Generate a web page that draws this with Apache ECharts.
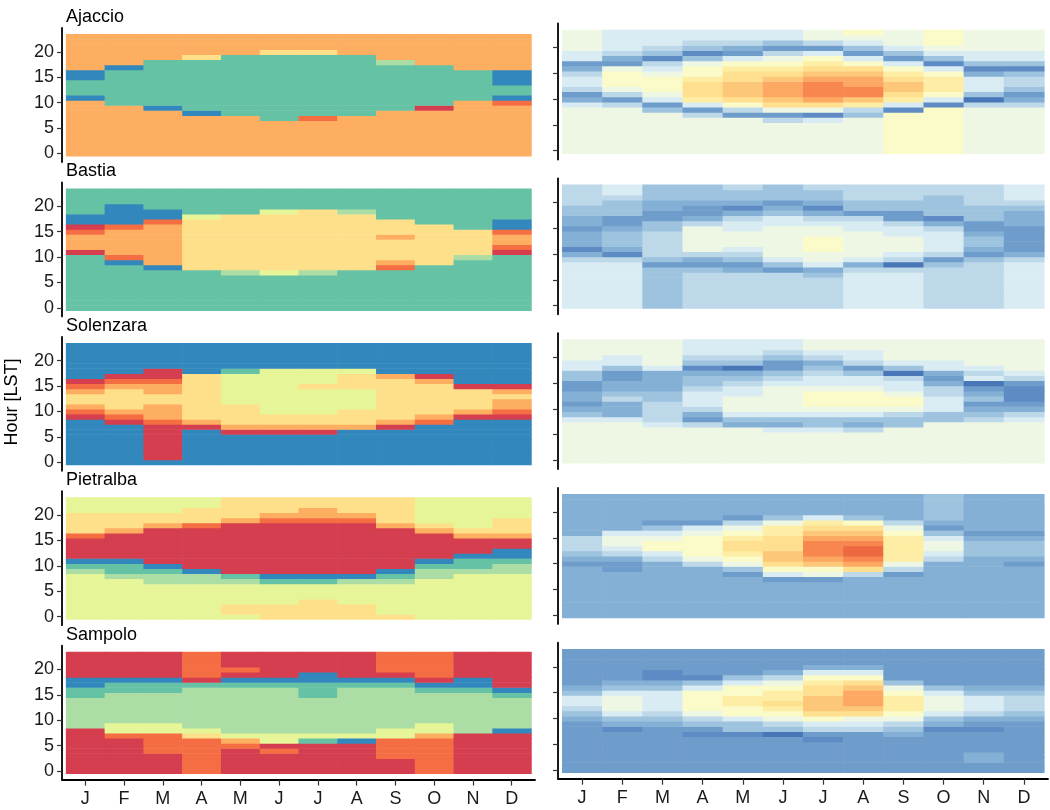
<!DOCTYPE html>
<html>
<head>
<meta charset="utf-8">
<script src="https://cdn.jsdelivr.net/npm/echarts@6/dist/echarts.min.js"></script>
<style>
  html, body { margin: 0; padding: 0; background: #fff; }
  #chart { width: 1050px; height: 810px; }
</style>
</head>
<body>
<div id="chart"></div>
<script>
var months = ['J', 'F', 'M', 'A', 'M', 'J', 'J', 'A', 'S', 'O', 'N', 'D'];
var monthTicks = [1, 2, 3, 4, 5, 6, 7, 8, 9, 10, 11, 12];
var hourTicks = [0, 5, 10, 15, 20];
var stations = ['Ajaccio', 'Bastia', 'Solenzara', 'Pietralba', 'Sampolo'];

// cluster colours, cluster 1..8
var clusterColors = ['#D53E4F', '#F46D43', '#FDAE61', '#FEE08B', '#E6F598', '#ABDDA4', '#66C2A5', '#3288BD'];
// colours of levels 0..14 (hex digits in the level strings)
var levelColors = ['#4876b6', '#5e8bc3', '#6f9dcb', '#85b0d6', '#9ec3df', '#bcd8e9', '#d9ebf3', '#eef6e4',
  '#fafbc9', '#feeea5', '#fee090', '#fdc77a', '#fca862', '#f7874f', '#ec6941'];

// one string per month, one character per hour (hour 0 first)
var ajaccioCluster = [
  '333333333338777883333333', '333333333377777778333333', '333333333877777777733333',
  '333333338777777777743333', '333333337777777777773333', '333333377777777777774333',
  '333333327777777777774333', '333333337777777777773333', '333333333777777777633333',
  '333333333177777777333333', '333333333337777773333333', '333333333328778883333333'
];
var bastiaCluster = [
  '777777777771333218877777', '777777777823333328888777', '777777778333333332887777',
  '777777774444444444577777', '777777764444444444477777', '777777754444444444457777',
  '777777764444444444447777', '777777774444444444467777', '777777772344443444777777',
  '777777777444444447777777', '777777777764444477777777', '777777777771233288777777'
];
var solenzaraCluster = [
  '888888888123443218888888', '888888881234444321888888', '811111112333443321188888',
  '888888813444444444888888', '888888134444555555788888', '888888134455555555588888',
  '888888134455555455588888', '888888834445555444588888', '888888813444444443888888',
  '888888882344444431888888', '888888888134444188888888', '888888888123343188888888'
];
var pietralbaCluster = [
  '555555555678111124444555', '555555556778111113444555', '555555566781111111344555',
  '555555566811111111244455', '544555567111111111134444', '444555578111111111123444',
  '444455578111111111123344', '444555568111111111123444', '455555567811111111344444',
  '555555556678111113455555', '555555555677811134555555', '555555555667881134445555'
];
var sampoloCluster = [
  '111111111666666778811111', '111111125566666677811111', '111122225566666677811111',
  '222222245666666667122222', '111112356666666667812111', '111121556666666667811111',
  '111111756666666777881111', '111111856666666667811111', '111222255666666667812222',
  '222222235566666678122222', '111111116666666678811111', '111111118666666781111111'
];

var ajaccioLevel = [
  '777777777632566532667777', '777777777525788872356666', '777777774267888765145666',
  '77777775269aaa9887414566', '7777777258abbbaa98623566', '777777527abcccba98752466',
  '777777617acdddcba9862577', '7777777459bddccba8624678', '88888888169abba986246777',
  '888888888168999861467888', '777777777504666314667777', '777777777532455414667777'
];
var bastiaLevel = [
  '666666666531333233445555', '666666666513444322444566', '444444442455555442233444',
  '555555542357777753223444', '555555532456777665313445', '555555524677777766432444',
  '555555436778887765313445', '666666653677777665244555', '666666650567776652244555',
  '555555554256666531444455', '555555555423443224445555', '666666666532222233345666'
];
var solenzaraLevel = [
  '777777776432332244667777', '777777776333543322466777', '777777765555443333677777',
  '777777752356665443145666', '777777734677766543045666', '777777634677777654224566',
  '777777644678887665435677', '777777534678887664256677', '777777744578876650467777',
  '777777774466655323667777', '777777775432432065677777', '777777776532111256777777'
];
var pietralbaLevel = [
  '333333333323455533333333', '333333333223567763333333', '333333333335688764233333',
  '333333333357888876233333', '3333333324789aa987523333', '3333333268abbaaa99743333',
  '3333333278bcdddcba963333', '333333335acdeedcba843333', '333333332579999987533333',
  '333333333335677642344444', '333333333333444323333333', '333333333323444323333333'
];
var sampoloLevel = [
  '222222222234566432222222', '222222221346777643222222', '222222222345666643112222',
  '222222212457888864122222', '222222214468899886422222', '2222222045789a9987532222',
  '22222212568abbbaa9863222', '22222222567abcccba863222', '222222234578999874222222',
  '222222221346777642222222', '223322221235666432222222', '222222222234555432222222'
];

var clusterRows = [ajaccioCluster, bastiaCluster, solenzaraCluster, pietralbaCluster, sampoloCluster];
var levelRows = [ajaccioLevel, bastiaLevel, solenzaraLevel, pietralbaLevel, sampoloLevel];

function toCells(rows) {
  var out = [];
  for (var m = 0; m < rows.length; m++) {
    for (var h = 0; h < 24; h++) {
      out.push([m + 1, h, parseInt(rows[m].charAt(h), 16)]);
    }
  }
  return out;
}

function renderCell(params, api) {
  var m = api.value(0), h = api.value(1);
  var a = api.coord([m - 0.5, h + 0.5]);
  var b = api.coord([m + 0.5, h - 0.5]);
  return {
    type: 'rect',
    shape: { x: a[0], y: a[1], width: b[0] - a[0] + 0.6, height: b[1] - a[1] + 0.6 },
    style: { fill: api.visual('color') }
  };
}

var font = '"Liberation Sans", Arial, sans-serif';
var grids = [], xAxes = [], yAxes = [], series = [], graphics = [];

for (var col = 0; col < 2; col++) {
  for (var r = 0; r < 5; r++) {
    var gi = grids.length;
    var bottom = (r === 4);
    if (col === 0) {
      grids.push({ left: 62, width: 473, top: 28 + 154.4 * r, height: 134 });
    } else {
      grids.push({ left: 558, width: 490, top: 23.5 + 154.8 * r, height: 136 });
    }
    xAxes.push({
      type: 'value', gridIndex: gi, min: 0.4, max: 12.6,
      axisLine: { show: bottom, onZero: false, lineStyle: { color: '#000', width: 1.8 } },
      axisTick: { show: bottom, length: 6, customValues: monthTicks, lineStyle: { color: '#333', width: 1.2 } },
      axisLabel: {
        show: bottom, customValues: monthTicks, margin: 10,
        fontSize: 18, fontFamily: font, color: '#1a1a1a',
        formatter: function (v) { return months[v - 1]; }
      },
      splitLine: { show: false }
    });
    yAxes.push({
      type: 'value', gridIndex: gi, min: -1.7, max: 24.7,
      axisLine: { show: true, onZero: false, lineStyle: { color: '#000', width: 1.8 } },
      axisTick: { show: true, length: 5, customValues: hourTicks, lineStyle: { color: '#333', width: 1.2 } },
      axisLabel: {
        show: col === 0, customValues: hourTicks, margin: 8,
        fontSize: 18, fontFamily: font, color: '#1a1a1a'
      },
      splitLine: { show: false }
    });
    series.push({
      type: 'custom',
      xAxisIndex: gi, yAxisIndex: gi,
      renderItem: renderCell,
      encode: { x: 0, y: 1 },
      data: toCells(col === 0 ? clusterRows[r] : levelRows[r])
    });
  }
}

for (var s = 0; s < stations.length; s++) {
  graphics.push({
    type: 'text', left: 66, top: 8 + 154.4 * s,
    style: { text: stations[s], fontSize: 18, fontFamily: font, fill: '#000' }
  });
}
graphics.push({
  type: 'text', x: 12, y: 402, rotation: Math.PI / 2,
  style: { text: 'Hour [LST]', fontSize: 18, fontFamily: font, fill: '#000', align: 'center', verticalAlign: 'middle' }
});

var chart = echarts.init(document.getElementById('chart'), null, { renderer: 'canvas' });
chart.setOption({
  animation: false,
  backgroundColor: '#fff',
  grid: grids,
  xAxis: xAxes,
  yAxis: yAxes,
  visualMap: [
    {
      type: 'piecewise', show: false, dimension: 2,
      seriesIndex: [0, 1, 2, 3, 4],
      pieces: clusterColors.map(function (c, i) { return { value: i + 1, color: c }; })
    },
    {
      type: 'continuous', show: false, dimension: 2,
      seriesIndex: [5, 6, 7, 8, 9],
      min: 0, max: 14,
      inRange: { color: levelColors }
    }
  ],
  graphic: graphics,
  series: series
});
</script>
</body>
</html>
